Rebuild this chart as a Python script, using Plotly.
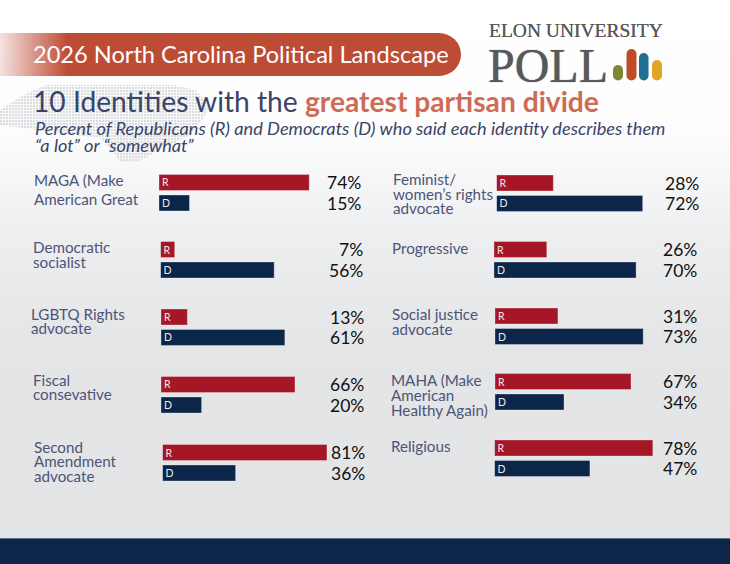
import base64

import plotly.graph_objects as go

W = 730
H = 564

identities = [
    ["MAGA (Make", "American Great"],
    ["Democratic", "socialist"],
    ["LGBTQ Rights", "advocate"],
    ["Fiscal", "consevative"],
    ["Second", "Amendment", "advocate"],
    ["Feminist/", "women\u2019s rights", "advocate"],
    ["Progressive"],
    ["Social justice", "advocate"],
    ["MAHA (Make", "American", "Healthy Again)"],
    ["Religious"],
]
rep_values = [74, 7, 13, 66, 81, 28, 26, 31, 67, 78]
dem_values = [15, 56, 61, 20, 36, 72, 70, 73, 34, 47]
party_labels = ["R", "D"]

# pixel placement of each group, the source artwork is not quite aligned
bar_left = [159, 160.5, 161, 161, 162.5, 496.5, 494, 495, 495, 494.5]
bar_top = [174.5, 241.5, 309, 376.5, 444.5, 175, 241.5, 308, 373.5, 440]
pct_right = [361, 362.5, 363.5, 363.5, 364.5, 699, 696.5, 697, 697, 697]
label_left = [34, 33, 31, 33, 34, 393, 392, 392, 391, 390.5]
label_top = [180, 247, 313.5, 379.5, 446.5, 179, 247.5, 314, 380, 446]
label_step = [18.5, 14.5, 14.5, 14.5, 14.8, 14.7, 15, 15, 15, 15]

PX_PER_PCT = 2.03
BAR_PITCH = 20.5
RED = "#a51727"
NAVY = "#0c2649"
SLATE = "#3a4468"
LABEL = "#4c5478"
FONT = "Lato"
SERIF = "Liberation Serif"


def background_uri() -> str:
    map_outline = (
        "M0,110 L15,100 L30,92 L45,85 L175,85 L195,90 L210,105 L207,113 L190,135 "
        "L160,150 L137,162 L120,162 L113,152 L100,138 L37,130 L0,125 Z"
    )
    svg = f"""<svg xmlns="http://www.w3.org/2000/svg" width="{W}" height="{H}" viewBox="0 0 {W} {H}">
<defs>
<linearGradient id="bg" x1="0" y1="0" x2="0" y2="1">
<stop offset="0" stop-color="#ffffff"/><stop offset="0.23" stop-color="#fdfdfd"/>
<stop offset="0.42" stop-color="#edeef0"/><stop offset="0.62" stop-color="#e4e5e7"/>
<stop offset="1" stop-color="#e3e4e6"/>
</linearGradient>
<linearGradient id="band" x1="0" y1="0" x2="75" y2="0" gradientUnits="userSpaceOnUse">
<stop offset="0" stop-color="#bd4c35" stop-opacity="0.15"/><stop offset="0.9" stop-color="#bd4c35"/>
</linearGradient>
<pattern id="dots" width="3" height="3" patternUnits="userSpaceOnUse">
<rect width="2.2" height="2.2" fill="#dcdde0"/>
</pattern>
</defs>
<rect width="{W}" height="{H}" fill="url(#bg)"/>
<path d="{map_outline}" fill="url(#dots)"/>
<path d="M0,33 H439 A22,21.5 0 0 1 439,76 H0 Z" fill="url(#band)"/>
<rect y="538" width="{W}" height="26" fill="{NAVY}"/>
<rect y="538" width="{W}" height="1" fill="#5a6b85"/>
<rect x="613" y="65" width="10" height="15.5" rx="5" fill="#7f8735"/>
<rect x="626.5" y="49" width="10" height="31.5" rx="5" fill="#bd4c27"/>
<rect x="639" y="53" width="9.5" height="27.5" rx="4.8" fill="#1f6f8f"/>
<rect x="652" y="60" width="10" height="20.5" rx="5" fill="#dfa526"/>
</svg>"""
    return "data:image/svg+xml;base64," + base64.b64encode(svg.encode()).decode()


fig = go.Figure()
annotations = []


def add_text(x, y, text, size, color, anchor="left", family=FONT, shadow=None):
    font = dict(family=family, size=size, color=color)
    if shadow:
        font["shadow"] = shadow
    annotations.append(dict(
        x=x / W, y=1 - y / H, xref="paper", yref="paper", text=text, showarrow=False,
        xanchor=anchor, yanchor="middle", borderpad=0, borderwidth=0, font=font,
    ))


layout_axes = {}
for i, lines in enumerate(identities):
    n = "" if i == 0 else str(i + 1)
    values = [rep_values[i], dem_values[i]]
    fig.add_trace(go.Bar(
        x=values, y=party_labels, orientation="h", xaxis=f"x{n}", yaxis=f"y{n}",
        marker=dict(color=[RED, NAVY], line=dict(color="rgba(255,255,255,0.3)", width=1)),
        text=party_labels, textposition="inside", insidetextanchor="start", textangle=0,
        textfont=dict(family=FONT, size=10.5, color="#f2e9ea"), showlegend=False,
        constraintext="none", cliponaxis=False,
    ))
    # 0-100 axis sized so one percent is the same width in every group
    left = bar_left[i]
    top = bar_top[i] - (BAR_PITCH - 16) / 2
    bottom = top + BAR_PITCH * 2
    layout_axes[f"xaxis{n}"] = dict(
        domain=[left / W, (left + 100 * PX_PER_PCT) / W], range=[0, 100], visible=False,
        anchor=f"y{n}",
    )
    layout_axes[f"yaxis{n}"] = dict(
        domain=[1 - bottom / H, 1 - top / H], range=[1.5, -0.5], visible=False,
        anchor=f"x{n}", type="category",
    )
    for j, line in enumerate(lines):
        add_text(label_left[i], label_top[i] + j * label_step[i], line, 15.2, LABEL)
    for j, value in enumerate(values):
        annotations.append(dict(
            x=(pct_right[i] + 1) / W, xref="paper", y=party_labels[j], yref=f"y{n}",
            text=f"{value}%", showarrow=False, xanchor="right", yanchor="middle",
            borderpad=0, font=dict(family=FONT, size=17.5, color="#111111"),
        ))

add_text(33, 54.5, "2026 North Carolina Political Landscape", 23.6, "#ffffff")
add_text(
    33, 100.5,
    "10 Identities with the <b><span style='color:#cf6b55'>greatest partisan divide</span></b>",
    28.2, SLATE,
)
add_text(35, 127.5, "<i>Percent of Republicans (R) and Democrats (D) who said each identity describes them</i>", 18.2, SLATE)
add_text(35, 144.5, "<i>\u201ca lot\u201d or \u201csomewhat\u201d</i>", 18.2, SLATE)
add_text(489, 30, "ELON UNIVERSITY", 19.5, "#58595b", family=SERIF, shadow="0 0 0.6px #58595b")
add_text(488, 65, "POLL", 48, "#58595b", family=SERIF, shadow="0 0 1px #58595b")

fig.update_layout(
    width=W, height=H, margin=dict(l=0, r=0, t=0, b=0), autosize=False,
    paper_bgcolor="#ffffff", plot_bgcolor="rgba(0,0,0,0)", barmode="group",
    bargap=0.22, annotations=annotations, hovermode=False,
    images=[dict(
        source=background_uri(), xref="paper", yref="paper", x=0, y=1, sizex=1, sizey=1,
        xanchor="left", yanchor="top", sizing="stretch", layer="below",
    )],
    **layout_axes,
)

fig.write_html(
    "out.html", config={"displayModeBar": False},
    post_script="document.body.style.margin='0';",
)
